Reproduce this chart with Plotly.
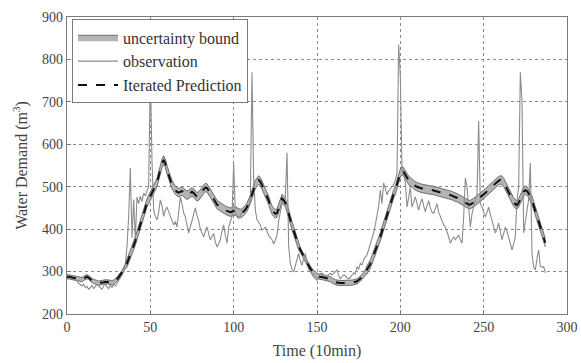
import plotly.graph_objects as go

# Time steps (10-min intervals)
time = list(range(288))

observation = [
    288, 287, 289, 286, 284, 282, 278, 272, 268, 266,
    270, 262, 265, 258, 262, 268, 260, 264, 270, 266,
    262, 258, 266, 272, 264, 260, 268, 262, 270, 266,
    272, 278, 285, 292, 300, 318, 360, 430, 544, 380,
    470, 375, 476, 460, 478, 465, 485, 478, 490, 500,
    775, 560, 445, 430, 422, 440, 469, 455, 430, 445,
    452, 440, 433, 420, 410, 418, 405, 440, 476, 460,
    438, 429, 410, 391, 405, 420, 440, 450, 432, 420,
    400, 390, 382, 395, 405, 390, 375, 382, 390, 370,
    358, 365, 375, 395, 410, 385, 367, 405, 420, 430,
    555, 438, 430, 425, 432, 440, 440, 448, 452, 455,
    470, 770, 520, 445, 422, 415, 410, 398, 400, 405,
    395, 385, 380, 375, 365, 378, 385, 420, 445, 460,
    470, 474, 580, 360, 320, 305, 299, 315, 327, 343,
    325, 315, 330, 343, 320, 305, 300, 292, 287, 283,
    280, 288, 295, 297, 292, 290, 288, 293, 296, 292,
    297, 300, 304, 290, 283, 288, 292, 290, 285, 283,
    286, 292, 297, 294, 312, 305, 320, 315, 328, 334,
    339, 352, 365, 375, 392, 410, 429, 455, 492, 460,
    509, 495, 481, 490, 495, 498, 505, 515, 532, 835,
    760, 540, 530, 509, 452, 475, 498, 452, 465, 476,
    460, 445, 460, 472, 455, 441, 455, 467, 450, 440,
    437, 448, 460, 440, 430, 421, 410, 405, 395, 382,
    367, 375, 382, 375, 380, 386, 375, 367, 429, 520,
    500, 452, 405, 436, 455, 470, 480, 655, 460, 452,
    440, 429, 440, 452, 435, 421, 405, 391, 400, 414,
    395, 375, 390, 405, 395, 382, 365, 351, 365, 382,
    470, 500, 770, 700, 391, 420, 452, 470, 556, 343,
    310, 304, 330, 351, 312, 310, 312, 297,
]

prediction = [
    288, 288, 287, 286, 285, 284, 283, 282, 281, 281,
    284, 287, 288, 286, 282, 279, 277, 275, 274, 273,
    273, 274, 275, 276, 276, 275, 274, 274, 275, 278,
    282, 287, 292, 298, 305, 312, 320, 330, 340, 350,
    360, 372, 385, 398, 412, 426, 440, 452, 462, 470,
    478, 485, 492, 500, 510, 525, 540, 555, 563, 555,
    540, 525, 516, 505, 498, 492, 488, 486, 488, 490,
    486, 482, 480, 482, 486, 488, 485, 480, 476, 478,
    482, 488, 494, 498, 497, 492, 485, 478, 470, 463,
    458, 455, 452, 450, 448, 445, 443, 441, 440, 441,
    443, 442, 440, 438, 437, 438, 441, 446, 452, 460,
    470, 482, 495, 505, 511, 516, 512, 505, 495, 485,
    478, 468, 455, 445, 440, 436, 438, 448, 462, 472,
    468, 462, 450, 438, 422, 408, 395, 382, 372, 361,
    351, 343, 335, 327, 320, 313, 307, 302, 297, 293,
    290, 288, 287, 287, 286, 285, 285, 284, 282, 279,
    276, 275, 274, 273, 273, 273, 273, 273, 273, 273,
    273, 274, 275, 276, 277, 280, 283, 287, 292, 298,
    304, 310, 318, 328, 338, 348, 358, 370, 382, 395,
    408, 420, 432, 446, 460, 472, 483, 492, 505, 520,
    532, 538, 535, 528, 520, 515, 512, 508, 505, 502,
    500, 498, 497, 496, 495, 494, 493, 492, 492, 492,
    491, 490, 489, 488, 487, 486, 485, 484, 483, 482,
    480, 479, 477, 476, 474, 472, 470, 467, 464, 462,
    460, 458, 458, 460, 463, 466, 469, 472, 474, 477,
    481, 485, 489, 492, 496, 500, 504, 508, 512, 514,
    516, 515, 510, 502, 494, 486, 478, 470, 464, 459,
    457, 462, 470, 480, 488, 492, 490, 484, 476, 468,
    455, 442, 430, 418, 405, 392, 380, 368,
]

# half width of the uncertainty bound
bound_half = [5] * 36 + [10] * 104 + [6] * 40 + [10] * 108

x_ticks = [0, 50, 100, 150, 200, 250, 300]
y_ticks = [200, 300, 400, 500, 600, 700, 800, 900]

lower = [p - h for p, h in zip(prediction, bound_half)]
upper = [p + h for p, h in zip(prediction, bound_half)]

font = "Liberation Serif"

fig = go.Figure()
fig.add_trace(go.Scatter(x=time, y=lower, mode="lines",
                         line=dict(color="#555555", width=0.8),
                         showlegend=False, hoverinfo="skip"))
fig.add_trace(go.Scatter(x=time, y=upper, mode="lines", fill="tonexty",
                         fillcolor="#b4b4b4",
                         line=dict(color="#555555", width=0.8),
                         name="uncertainty bound"))
fig.add_trace(go.Scatter(x=time, y=observation, mode="lines",
                         line=dict(color="#8c8c8c", width=1.1),
                         name="observation"))
fig.add_trace(go.Scatter(x=time, y=prediction, mode="lines",
                         line=dict(color="#111111", width=2, dash="dash"),
                         name="Iterated Prediction"))

axis_common = dict(
    showline=True, linecolor="#7a7a7a", linewidth=1.3, mirror=True,
    ticks="inside", ticklen=4, tickcolor="#7a7a7a",
    showgrid=True, gridcolor="#8a8a8a", griddash="dot", gridwidth=1,
    zeroline=False, automargin=False,
    tickfont=dict(family=font, size=14, color="#444444"),
)

fig.update_xaxes(range=[0, 300], tickvals=x_ticks,
                 title=dict(text="Time (10min)", font=dict(family=font, size=16, color="#444444"),
                            standoff=10),
                 **axis_common)
fig.update_yaxes(range=[200, 900], tickvals=y_ticks,
                 title=dict(text="Water Demand (m<sup>3</sup>)",
                            font=dict(family=font, size=16, color="#444444"), standoff=10),
                 **axis_common)

fig.update_layout(
    width=581, height=363,
    margin=dict(l=67, r=14, t=17, b=49),
    plot_bgcolor="white", paper_bgcolor="white",
    showlegend=True,
    legend=dict(x=0.01, y=0.992, xanchor="left", yanchor="top",
                traceorder="normal",
                bgcolor="white", bordercolor="#7a7a7a", borderwidth=1,
                font=dict(family=font, size=16, color="#333333"),
                tracegroupgap=0, itemwidth=40),
)

fig.write_html("out.html")
